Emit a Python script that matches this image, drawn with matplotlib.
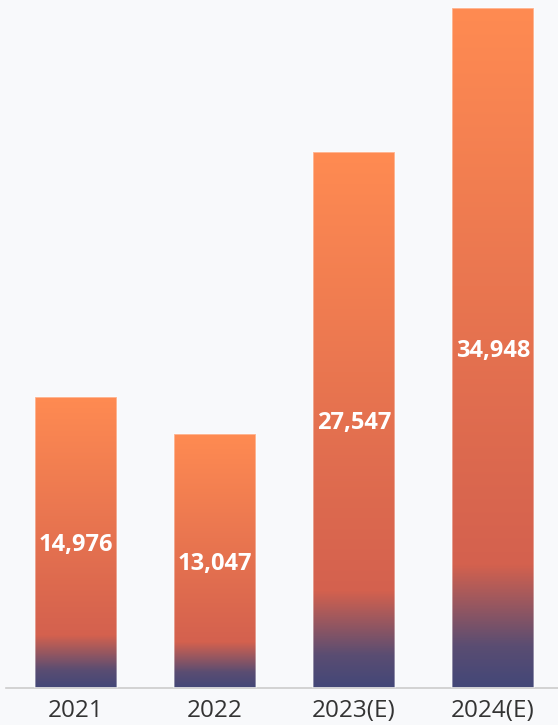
import numpy as np
import matplotlib.pyplot as plt
from matplotlib.colors import LinearSegmentedColormap

plt.rcParams['font.family'] = ['Open Sans', 'DejaVu Sans']

years = ["2021", "2022", "2023(E)", "2024(E)"]
values = [14976, 13047, 27547, 34948]

bg = "#f8f9fb"
cmap = LinearSegmentedColormap.from_list(
    "bar", [(0.0, "#434778"), (0.06, "#5a4d72"), (0.18, "#d4614e"), (1.0, "#ff8b52")])

fig = plt.figure(figsize=(5.58, 7.25), dpi=100, facecolor=bg)
ax = fig.add_axes([6 / 558, 37 / 725, 552 / 558, 688 / 725])
ax.set_facecolor(bg)

x = np.arange(len(years))
width = 0.59
bars = ax.bar(x, values, width=width, color="none", edgecolor=(1, 1, 1, 0.45), linewidth=1.2, zorder=3)

grad = np.linspace(0, 1, 256).reshape(-1, 1)
for b, v in zip(bars, values):
    x0 = b.get_x()
    im = ax.imshow(grad, cmap=cmap, aspect="auto", origin="lower",
                   extent=[x0, x0 + width, 0, v], zorder=2)
    im.set_clip_path(b)
    ax.text(b.get_x() + width / 2, v / 2, f"{v:,}", ha="center", va="center_baseline",
            color="white", fontsize=17, fontweight="bold", zorder=4)

ax.set_xlim(-0.504, 3.468)
ax.set_ylim(0, 35359)
ax.set_xticks(x)
ax.set_xticklabels(years, fontsize=17.5, color="#333333")
ax.tick_params(axis="x", length=0, pad=8)
ax.set_yticks([])
for s in ["top", "right", "left"]:
    ax.spines[s].set_visible(False)
ax.spines["bottom"].set_color("#cccccc")
ax.spines["bottom"].set_linewidth(1.2)

fig.savefig("out.png", dpi=100, facecolor=bg)
